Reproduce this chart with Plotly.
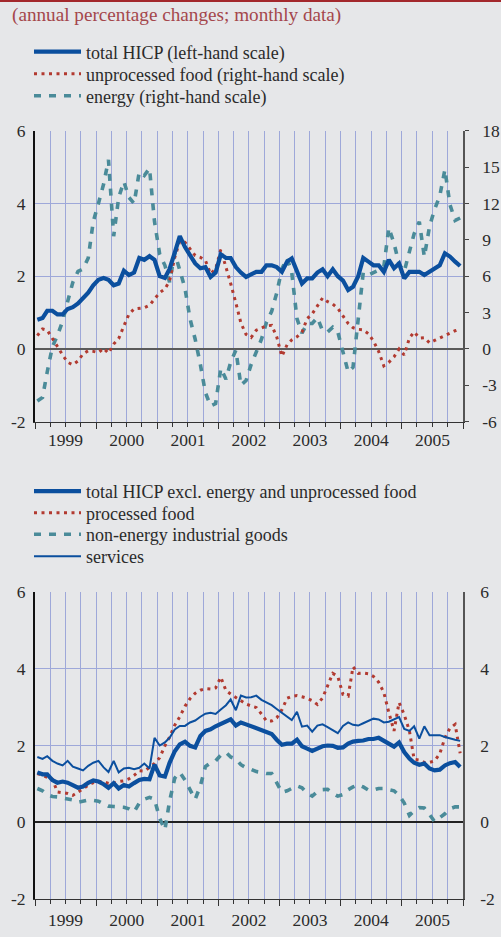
import plotly.graph_objects as go

# ---------------- data (monthly, Jan 1999 - Dec 2005) ----------------
years = [1999, 2000, 2001, 2002, 2003, 2004, 2005]
months = [f"{y}-{m:02d}-15" for y in years for m in range(1, 13)]

total_hicp = [
    0.8, 0.85, 1.05, 1.05, 0.95, 0.95, 1.1, 1.15, 1.25, 1.4, 1.55, 1.75,
    1.9, 1.95, 1.9, 1.75, 1.8, 2.15, 2.03, 2.1, 2.5, 2.45, 2.55, 2.45,
    2.0, 1.95, 2.2, 2.65, 3.1, 2.8, 2.55, 2.35, 2.22, 2.25, 1.98, 2.1,
    2.6, 2.5, 2.5, 2.25, 2.1, 1.98, 2.05, 2.12, 2.12, 2.3, 2.3, 2.25,
    2.12, 2.4, 2.49, 2.1, 1.8, 1.94, 1.94, 2.1, 2.19, 2.0, 2.19, 2.0,
    1.88, 1.62, 1.71, 2.0, 2.5, 2.4, 2.3, 2.3, 2.12, 2.45, 2.22, 2.35,
    1.94, 2.12, 2.12, 2.12, 2.03, 2.12, 2.22, 2.3, 2.63, 2.54, 2.4, 2.28,
]
unprocessed_food = [
    1.1, 1.65, 1.55, 0.8, 0.2, -0.5, -1.1, -1.3, -1.0, -0.4, -0.15, -0.2,
    -0.3, 0.05, -0.35, 0.4, 0.85, 1.9, 2.85, 3.3, 3.35, 3.4, 3.6, 4.1,
    4.65, 4.95, 5.6, 7.55, 8.9, 8.8, 8.3, 7.7, 7.55, 7.3, 6.2, 6.6,
    8.2, 6.8, 5.4, 3.8, 2.15, 1.2, 0.95, 1.55, 1.75, 1.9, 1.95, 1.0,
    -0.6, 0.35, 0.75, 1.0, 1.38, 2.5, 2.9, 3.5, 4.2, 3.9, 3.7, 3.35,
    2.75, 2.1, 1.75, 1.62, 1.58, 1.25, 0.65, -0.2, -1.4, -1.1, -0.65, 0.0,
    -0.49, 0.9, 1.4, 0.9, 0.93, 0.5, 0.7, 0.9, 1.15, 1.33, 1.5, 1.65,
]
energy = [
    -4.3, -4.0, -1.9, 0.2, 1.1, 2.3, 3.9, 5.5, 6.4, 6.6, 7.5, 10.5,
    12.0, 13.6, 15.6, 9.3, 12.5, 13.8, 12.5, 12.0, 14.6, 14.3, 14.9, 10.5,
    7.8, 6.9, 5.5, 7.9, 6.5, 5.0, 2.5, 0.8, -1.3, -3.6, -4.7, -4.5,
    -1.6, -2.5, -1.1, -0.1, -3.0, -2.6, -1.3, -0.2, 0.8, 2.2, 3.1, 4.6,
    6.6, 7.5, 6.3, 2.5, 1.3, 2.1, 2.1, 2.6, 1.5, 1.4, 1.8, 1.4,
    -0.4, -1.9, -1.5, 2.3, 6.3, 6.1, 6.3, 6.5, 6.8, 10.0, 8.7, 7.0,
    6.4, 8.0, 9.5, 10.5, 7.6, 10.1, 11.5, 12.6, 14.8, 11.9, 10.6, 10.8,
]
core_hicp = [
    1.3, 1.25, 1.25, 1.1, 1.03, 1.06, 1.03, 0.97, 0.9, 0.93, 1.03, 1.09,
    1.06, 0.99, 0.9, 1.02, 0.88, 0.97, 0.93, 1.02, 1.1, 1.13, 1.12, 1.5,
    1.22, 1.19, 1.55, 1.85, 2.03, 2.1, 1.99, 1.95, 2.25, 2.38, 2.42, 2.5,
    2.57, 2.63, 2.68, 2.52, 2.6, 2.55, 2.5, 2.47, 2.4, 2.36, 2.3, 2.15,
    2.02, 2.05, 2.05, 2.15, 1.98, 1.92, 1.86, 1.92, 1.98, 2.0, 1.99, 1.94,
    1.95, 2.05, 2.1, 2.12, 2.13, 2.17, 2.17, 2.2, 2.12, 2.04, 1.97, 2.08,
    1.83, 1.66, 1.55, 1.5, 1.53, 1.4, 1.35, 1.37, 1.48, 1.54, 1.57, 1.44,
]
processed_food = [
    1.27, 1.22, 1.18, 1.12, 0.79, 0.76, 0.75, 0.7, 0.78, 0.87, 0.97, 1.03,
    1.06, 1.06, 1.01, 1.02, 1.06, 1.08, 1.13, 1.22, 1.34, 1.33, 1.43, 1.53,
    1.68, 1.99, 2.22, 2.53, 2.75, 3.02, 3.22, 3.36, 3.44, 3.48, 3.47, 3.5,
    3.78, 3.43, 3.34, 3.26, 3.16, 3.08, 3.03, 2.99, 2.82, 2.64, 2.64, 2.72,
    2.93, 3.23, 3.28, 3.3, 3.27, 3.23, 3.17, 3.07, 3.24, 3.56, 3.88, 3.8,
    3.33, 3.29, 4.05, 3.88, 3.89, 3.87, 3.8, 3.65, 3.38, 2.86, 2.38, 3.12,
    2.8, 2.38, 1.64, 1.62, 1.56, 1.56, 1.6, 1.78, 2.2, 2.45, 2.55, 1.8,
]
non_energy_goods = [
    0.88, 0.82, 0.72, 0.67, 0.66, 0.63, 0.62, 0.58, 0.52, 0.55, 0.58, 0.57,
    0.55, 0.48, 0.42, 0.41, 0.4, 0.39, 0.35, 0.27, 0.5, 0.6, 0.65, 0.6,
    0.1, -0.2, 0.55, 1.15, 1.3, 1.1, 0.85, 0.6, 0.95, 1.45, 1.55, 1.6,
    1.75, 1.82, 1.7, 1.65, 1.5, 1.42, 1.38, 1.32, 1.3, 1.27, 1.27, 1.05,
    0.78, 0.82, 0.88, 0.95, 0.9, 0.75, 0.68, 0.8, 0.85, 0.86, 0.75, 0.68,
    0.72, 0.85, 0.92, 0.98, 0.92, 0.84, 0.84, 0.88, 0.88, 0.85, 0.82, 0.7,
    0.5, 0.18, 0.3, 0.38, 0.37, 0.2, 0.02, 0.12, 0.22, 0.35, 0.4, 0.4,
]
services = [
    1.7, 1.65, 1.72, 1.6, 1.53, 1.48, 1.6, 1.45, 1.4, 1.35, 1.47, 1.55,
    1.6, 1.43, 1.31, 1.6, 1.3, 1.4, 1.42, 1.38, 1.42, 1.53, 1.4, 2.2,
    2.0, 2.08, 2.2, 2.42, 2.51, 2.51, 2.6, 2.65, 2.75, 2.83, 2.85, 2.82,
    2.94, 3.05, 3.2, 2.92, 3.3, 3.25, 3.26, 3.3, 3.19, 3.13, 3.05, 2.95,
    2.85, 2.76, 2.66, 2.88, 2.49, 2.52, 2.36, 2.52, 2.55, 2.48, 2.4, 2.32,
    2.51, 2.6, 2.54, 2.52, 2.58, 2.65, 2.7, 2.68, 2.6, 2.62, 2.69, 2.74,
    2.43, 2.38, 2.5, 2.18, 2.5, 2.27, 2.27, 2.27, 2.22, 2.18, 2.15, 2.12,
]

left_tickvals = [-2, 0, 2, 4, 6]
left_ticktext = ["-2", "0", "2", "4", "6"]
right_tickvals = [-6, -3, 0, 3, 6, 9, 12, 15, 18]
right_ticktext = ["-6", "-3", "0", "3", "6", "9", "12", "15", "18"]

title_text = "(annual percentage changes; monthly data)"

# ---------------- style ----------------
FONT = "Liberation Serif, Times New Roman, serif"
BG = "#e6e7e9"
GRID = "#9ea8d9"
BLUE = "#0b4f9e"
RED = "#b23a30"
TEAL = "#4a8b99"
TEXT = "#2b2b2b"
W, H = 501, 937
ML, MR = 35, 38
PW = W - ML - MR


def py(px):
    return 1 - px / H


def pxx(px):
    return (px - ML) / PW


fig = go.Figure()

# top panel
fig.add_trace(go.Scatter(x=months, y=energy, name="energy (right-hand scale)",
                         mode="lines", xaxis="x", yaxis="y", legend="legend3",
                         line=dict(color=TEAL, width=3.6, dash="7px,8px")))
fig.add_trace(go.Scatter(x=months, y=unprocessed_food, name="unprocessed food (right-hand scale)",
                         mode="lines", xaxis="x", yaxis="y", legend="legend2",
                         line=dict(color=RED, width=3, dash="3px,4.5px")))
fig.add_trace(go.Scatter(x=months, y=total_hicp, name="total HICP (left-hand scale)",
                         mode="lines", xaxis="x", yaxis="y2", legend="legend",
                         line=dict(color=BLUE, width=4.2)))

# bottom panel
fig.add_trace(go.Scatter(x=months, y=non_energy_goods, name="non-energy industrial goods",
                         mode="lines", xaxis="x2", yaxis="y3", legend="legend6",
                         line=dict(color=TEAL, width=3.6, dash="7px,8px")))
fig.add_trace(go.Scatter(x=months, y=processed_food, name="processed food",
                         mode="lines", xaxis="x2", yaxis="y3", legend="legend5",
                         line=dict(color=RED, width=3, dash="3px,4.5px")))
fig.add_trace(go.Scatter(x=months, y=services, name="services",
                         mode="lines", xaxis="x2", yaxis="y3", legend="legend7",
                         line=dict(color=BLUE, width=2)))
fig.add_trace(go.Scatter(x=months, y=core_hicp, name="total HICP excl. energy and unprocessed food",
                         mode="lines", xaxis="x2", yaxis="y4", legend="legend4",
                         line=dict(color=BLUE, width=4.2)))

tickfont = dict(family=FONT, size=17.5, color=TEXT)
legfont = dict(family=FONT, size=18, color=TEXT)


def xaxis_def(anchor, standoff):
    return dict(
        type="date", range=["1999-01-01", "2006-01-01"], anchor=anchor,
        dtick="M12", tick0="1999-01-01", ticklabelmode="period", tickformat="%Y",
        showgrid=True, gridcolor=GRID, gridwidth=1,
        ticks="outside", ticklen=6, tickcolor="#333", tickwidth=1,
        showline=True, linecolor="#333", linewidth=1, ticklabelstandoff=standoff,
        tickfont=tickfont, zeroline=False, fixedrange=True, automargin=False,
        minor=dict(dtick="M3", tick0="1999-01-01", showgrid=True, gridcolor=GRID,
                   gridwidth=1, ticks="outside", ticklen=4, tickcolor="#333"),
    )


def legend_def(center_px):
    return dict(x=pxx(29), y=py(center_px - 19), xanchor="left", yanchor="top",
                bgcolor="rgba(0,0,0,0)", itemwidth=47, font=legfont)


top_dom = [py(421.7), py(130.7)]
bot_dom = [py(899), py(592)]

fig.update_layout(
    width=W, height=H, autosize=False,
    paper_bgcolor=BG, plot_bgcolor=BG,
    margin=dict(l=ML, r=MR, t=0, b=0, pad=0),
    font=dict(family=FONT, size=17, color=TEXT),
    xaxis=xaxis_def("y", -4),
    xaxis2=xaxis_def("y3", -1),
    # top panel: right-hand scale (base)
    yaxis=dict(domain=top_dom, anchor="x", side="right", range=[-6, 18],
               tickvals=right_tickvals, ticktext=right_ticktext,
               ticks="outside", ticklen=4, tickcolor="#444", ticklabelstandoff=10,
               showline=True, linecolor="#555", linewidth=1.5, showgrid=False,
               zeroline=True, zerolinecolor="#5a5a5a", zerolinewidth=2,
               tickfont=tickfont, fixedrange=True, automargin=False),
    # top panel: left-hand scale
    yaxis2=dict(overlaying="y", anchor="x", side="left", range=[-2, 6],
                tickvals=left_tickvals, ticktext=left_ticktext, ticks="",
                ticklabelstandoff=4,
                showline=True, linecolor="#111", linewidth=2,
                showgrid=True, gridcolor=GRID, gridwidth=1, zeroline=False,
                tickfont=tickfont, fixedrange=True, automargin=False),
    # bottom panel
    yaxis3=dict(domain=bot_dom, anchor="x2", side="left", range=[-2, 6],
                tickvals=left_tickvals, ticktext=left_ticktext, ticks="",
                ticklabelstandoff=4,
                showline=True, linecolor="#111", linewidth=2,
                showgrid=True, gridcolor=GRID, gridwidth=1,
                zeroline=True, zerolinecolor="#222", zerolinewidth=2,
                tickfont=tickfont, fixedrange=True, automargin=False),
    yaxis4=dict(overlaying="y3", anchor="x2", side="right", range=[-2, 6],
                tickvals=left_tickvals, ticktext=left_ticktext, ticks="",
                ticklabelstandoff=12,
                showline=True, linecolor="#555", linewidth=1.5,
                showgrid=False, zeroline=False,
                tickfont=tickfont, fixedrange=True, automargin=False),
    legend=legend_def(52.5),
    legend2=legend_def(74.5),
    legend3=legend_def(96.5),
    legend4=legend_def(492),
    legend5=legend_def(513.5),
    legend6=legend_def(535),
    legend7=legend_def(557),
    annotations=[dict(text=title_text, xref="paper", yref="paper",
                      x=pxx(10), y=py(15), xanchor="left", yanchor="middle",
                      showarrow=False, font=dict(family=FONT, size=19.2, color="#a4464b"))],
    shapes=[dict(type="line", xref="paper", yref="paper", x0=pxx(0), x1=pxx(W),
                 y0=py(1), y1=py(1), line=dict(color="#a3282c", width=2))],
    showlegend=True,
)

post = ("document.documentElement.style.margin='0';"
        "document.body.style.margin='0';document.body.style.padding='0';"
        "document.documentElement.style.overflow='hidden';document.body.style.overflow='hidden';"
        "var d=document.getElementById('{plot_id}');"
        "d.style.position='fixed';d.style.left='0px';d.style.top='0px';")

fig.write_html("out.html", config={"displayModeBar": False}, post_script=post)
